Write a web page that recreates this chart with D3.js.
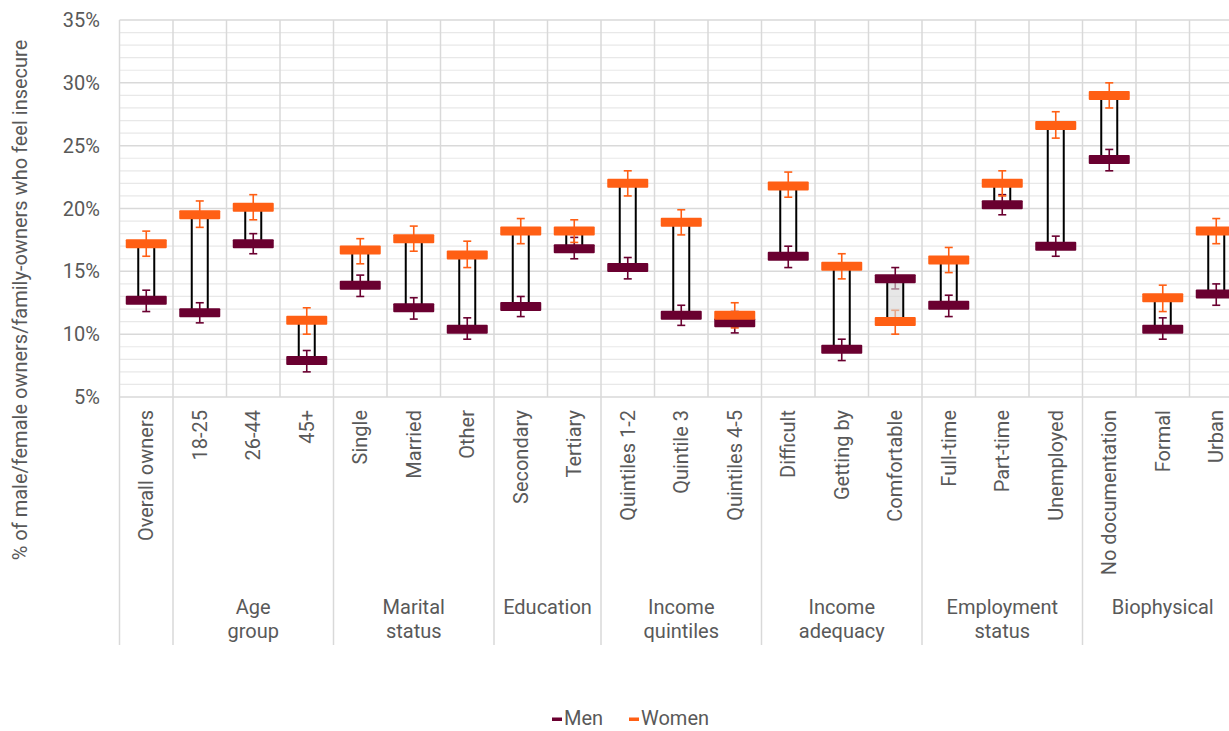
<!DOCTYPE html>
<html>
<head>
<meta charset="utf-8">
<script src="https://cdn.jsdelivr.net/npm/d3@7"></script>
<style>
  html, body { margin: 0; padding: 0; background: #fff; overflow: hidden; }
  svg { display: block; font-family: Roboto, "Liberation Sans", sans-serif; }
</style>
</head>
<body>
<svg id="chart" width="1229" height="731"></svg>
<script>
const categories = ["Overall owners", "18-25", "26-44", "45+", "Single", "Married", "Other",
  "Secondary", "Tertiary", "Quintiles 1-2", "Quintile 3", "Quintiles 4-5",
  "Difficult", "Getting by", "Comfortable", "Full-time", "Part-time", "Unemployed",
  "No documentation", "Formal", "Urban"];
const groupLabels = [[""], ["Age", "group"], ["Marital", "status"], ["Education"],
  ["Income", "quintiles"], ["Income", "adequacy"], ["Employment", "status"], ["Biophysical"]];
const groupSizes = [1, 3, 3, 2, 3, 3, 3, 3];

const men      = [12.7, 11.7, 17.2, 7.9, 13.9, 12.1, 10.4, 12.2, 16.8, 15.3, 11.5, 10.9, 16.2, 8.8, 14.4, 12.3, 20.3, 17.0, 23.9, 10.4, 13.2];
const menHigh  = [13.5, 12.5, 18.0, 8.7, 14.7, 12.9, 11.3, 13.0, 17.7, 16.1, 12.3, 11.8, 17.0, 9.6, 15.3, 13.1, 21.1, 17.8, 24.7, 11.3, 14.0];
const menLow   = [11.8, 10.9, 16.4, 7.0, 13.0, 11.2, 9.6, 11.4, 16.0, 14.4, 10.7, 10.1, 15.3, 7.9, 13.6, 11.4, 19.5, 16.2, 23.0, 9.6, 12.3];
const women     = [17.2, 19.5, 20.1, 11.1, 16.7, 17.6, 16.3, 18.2, 18.2, 22.0, 18.9, 11.5, 21.8, 15.4, 11.0, 15.9, 22.0, 26.6, 29.0, 12.9, 18.2];
const womenHigh = [18.2, 20.6, 21.1, 12.1, 17.6, 18.6, 17.4, 19.2, 19.1, 23.0, 19.9, 12.5, 22.9, 16.4, 11.9, 16.9, 23.0, 27.7, 30.0, 13.9, 19.2];
const womenLow  = [16.2, 18.5, 19.1, 10.0, 15.6, 16.6, 15.3, 17.2, 17.3, 21.0, 17.9, 10.5, 20.9, 14.4, 10.0, 14.9, 21.0, 25.6, 28.0, 11.8, 17.2];
const yTicks = [5, 10, 15, 20, 25, 30, 35];
const seriesNames = ["Men", "Women"];

const colors = { Men: "#6a0030", Women: "#ff5f14" };
const textColor = "#595959";
const fs = 20;

const svg = d3.select("#chart");
const plotLeft = 119.5, plotRight = 1243, plotTop = 20, plotBottom = 397, axisBottom = 645;

const x = d3.scaleBand().domain(categories).range([plotLeft, plotRight]).padding(0);
const y = d3.scaleLinear().domain([5, 35]).range([plotBottom, plotTop]);

const data = categories.map((c, i) => ({
  cat: c, men: men[i], menHigh: menHigh[i], menLow: menLow[i],
  women: women[i], womenHigh: womenHigh[i], womenLow: womenLow[i]
}));

// Minor gridlines every 1%
const minor = d3.range(6, 35).filter(v => v % 5 !== 0);
svg.append("g").selectAll("line").data(minor).join("line")
  .attr("x1", plotLeft).attr("x2", plotRight)
  .attr("y1", d => y(d)).attr("y2", d => y(d))
  .attr("stroke", "#e8e8e8").attr("stroke-width", 1.2);

// Major gridlines
svg.append("g").selectAll("line").data(yTicks).join("line")
  .attr("x1", plotLeft).attr("x2", plotRight)
  .attr("y1", d => y(d)).attr("y2", d => y(d))
  .attr("stroke", "#d9d9d9").attr("stroke-width", 1.5);

// Vertical category lines
const groupStarts = new Set();
let acc = 0;
groupSizes.forEach(s => { groupStarts.add(acc); acc += s; });
groupStarts.add(acc);
const bounds = d3.range(categories.length + 1);
svg.append("g").selectAll("line").data(bounds).join("line")
  .attr("x1", i => plotLeft + i * x.bandwidth()).attr("x2", i => plotLeft + i * x.bandwidth())
  .attr("y1", plotTop)
  .attr("y2", i => groupStarts.has(i) ? axisBottom : plotBottom)
  .attr("stroke", "#d9d9d9").attr("stroke-width", 1.5);

// Y tick labels
svg.append("g").selectAll("text").data(yTicks).join("text")
  .attr("x", 100).attr("y", d => y(d))
  .attr("dy", "0.35em").attr("text-anchor", "end")
  .attr("font-size", fs).attr("fill", textColor)
  .text(d => d + "%");

// Y title
svg.append("text")
  .attr("transform", `translate(27,${300}) rotate(-90)`)
  .attr("text-anchor", "middle").attr("font-size", fs).attr("fill", textColor)
  .text("% of male/female owners/family-owners who feel insecure");

// Category labels
svg.append("g").selectAll("text").data(categories).join("text")
  .attr("transform", d => `translate(${x(d) + x.bandwidth() / 2 + 7},${410}) rotate(-90)`)
  .attr("text-anchor", "end").attr("font-size", fs).attr("fill", textColor)
  .text(d => d);

// Group labels
acc = 0;
groupSizes.forEach((s, gi) => {
  const cx = plotLeft + (acc + s / 2) * x.bandwidth();
  const t = svg.append("text").attr("text-anchor", "middle").attr("font-size", fs).attr("fill", textColor);
  groupLabels[gi].forEach((line, li) => {
    t.append("tspan").attr("x", cx).attr("y", 614 + li * 24).text(line);
  });
  acc += s;
});

const cxOf = d => x(d.cat) + x.bandwidth() / 2;
const capW = 8, markW = 41, markH = 9, barW = 16;

// Error bars
function errorBars(key, color) {
  const g = svg.append("g").attr("stroke", color).attr("stroke-width", 1.6);
  g.selectAll("line.v").data(data).join("line").attr("class", "v")
    .attr("x1", cxOf).attr("x2", cxOf)
    .attr("y1", d => y(d[key + "High"])).attr("y2", d => y(d[key + "Low"]));
  g.selectAll("line.t").data(data).join("line").attr("class", "t")
    .attr("x1", d => cxOf(d) - capW / 2).attr("x2", d => cxOf(d) + capW / 2)
    .attr("y1", d => y(d[key + "High"])).attr("y2", d => y(d[key + "High"]));
  g.selectAll("line.b").data(data).join("line").attr("class", "b")
    .attr("x1", d => cxOf(d) - capW / 2).attr("x2", d => cxOf(d) + capW / 2)
    .attr("y1", d => y(d[key + "Low"])).attr("y2", d => y(d[key + "Low"]));
}
errorBars("men", colors.Men);
errorBars("women", colors.Women);

// Up/down bars
svg.append("g").selectAll("rect").data(data).join("rect")
  .attr("x", d => cxOf(d) - barW / 2)
  .attr("width", barW)
  .attr("y", d => y(Math.max(d.men, d.women)))
  .attr("height", d => Math.abs(y(d.men) - y(d.women)))
  .attr("fill", d => d.women >= d.men ? "none" : "rgba(215,215,215,0.6)")
  .attr("stroke", "#000").attr("stroke-width", 2);

// Markers
function markers(key, color) {
  svg.append("g").selectAll("rect").data(data).join("rect")
    .attr("x", d => cxOf(d) - markW / 2).attr("width", markW)
    .attr("y", d => y(d[key]) - markH / 2).attr("height", markH)
    .attr("rx", 1)
    .attr("fill", color);
}
markers("men", colors.Men);
markers("women", colors.Women);

// Legend
const legendItems = [{ name: "Men", x: 552 }, { name: "Women", x: 629 }];
const lg = svg.append("g").selectAll("g").data(legendItems).join("g")
  .attr("transform", d => `translate(${d.x},719)`);
lg.append("rect").attr("x", 0).attr("y", -1.5).attr("width", 10).attr("height", 3.5)
  .attr("fill", d => colors[d.name]);
lg.append("text").attr("x", 12).attr("y", 6)
  .attr("font-size", fs).attr("fill", textColor).text(d => d.name);
</script>
</body>
</html>
